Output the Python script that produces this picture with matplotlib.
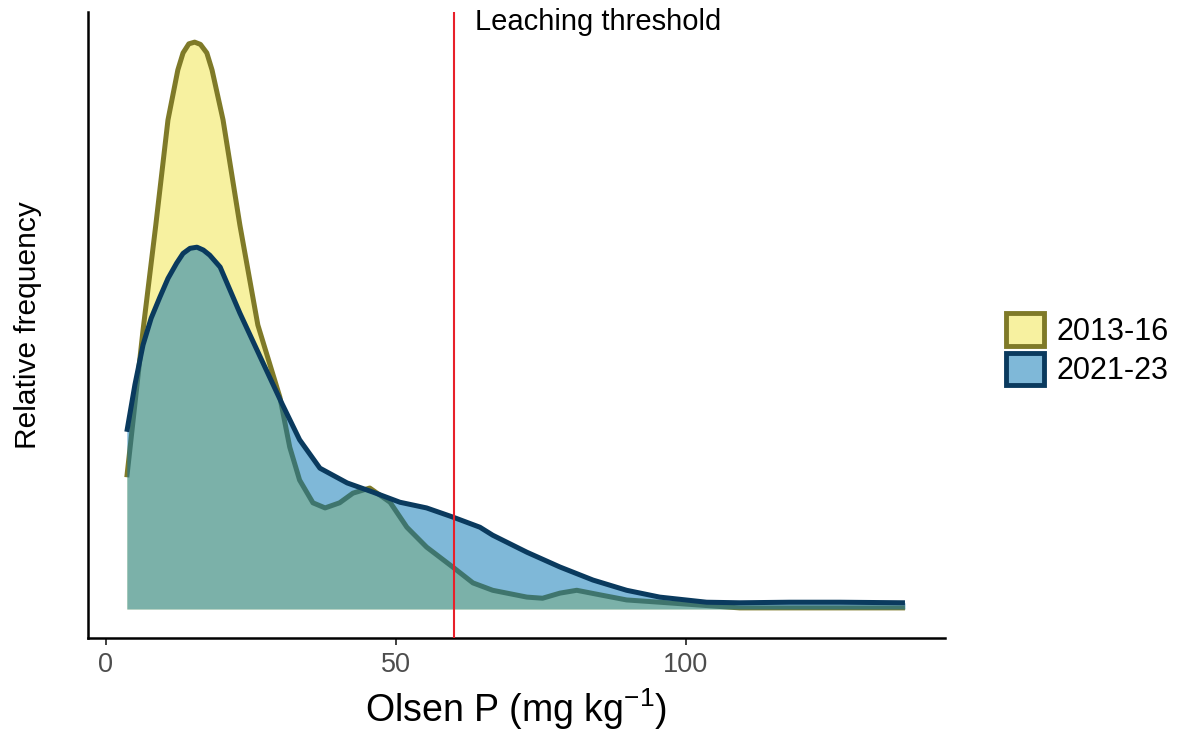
import matplotlib.pyplot as plt
from matplotlib.colors import to_rgba
from matplotlib.patches import Patch

plt.rcParams['font.family'] = ['Liberation Sans', 'DejaVu Sans']
plt.rcParams['mathtext.default'] = 'regular'

# density curves (relative units)
x_early = [3.6, 4.5, 6.4, 8.6, 10.7, 12.4, 13.3, 14.3, 15.3, 16.3, 17.4, 18.3,
           20.2, 23.1, 26.2, 30.0, 31.7, 33.4, 35.7, 37.8, 40.3, 42.6, 45.5,
           49.0, 51.9, 55.3, 59.8, 63.3, 66.7, 72.6, 75.3, 78.3, 81.2, 85.2,
           89.8, 95.5, 102.4, 109.3, 119.7, 137.8]
y_early = [0.232, 0.315, 0.491, 0.676, 0.861, 0.949, 0.979, 0.995, 0.998, 0.994,
           0.979, 0.949, 0.861, 0.676, 0.500, 0.373, 0.285, 0.227, 0.187, 0.178,
           0.187, 0.204, 0.213, 0.188, 0.144, 0.109, 0.074, 0.046, 0.033, 0.021,
           0.019, 0.028, 0.033, 0.025, 0.016, 0.012, 0.007, 0.002, 0.002, 0.002]

x_late = [3.6, 5.0, 6.4, 7.8, 9.3, 10.7, 12.2, 13.3, 14.5, 15.7, 16.8, 17.9,
          19.7, 23.1, 26.6, 30.3, 33.4, 36.9, 41.6, 46.0, 50.7, 55.3, 59.8,
          64.5, 66.7, 72.6, 78.3, 84.0, 89.8, 95.5, 103.6, 109.3, 117.9, 126.6,
          137.8]
y_late = [0.312, 0.395, 0.465, 0.512, 0.549, 0.582, 0.609, 0.626, 0.635, 0.637,
          0.632, 0.623, 0.602, 0.521, 0.444, 0.363, 0.298, 0.248, 0.222, 0.206,
          0.188, 0.178, 0.162, 0.144, 0.130, 0.100, 0.074, 0.051, 0.033, 0.021,
          0.012, 0.011, 0.012, 0.012, 0.011]

labels = ['2013-16', '2021-23']
fills = ['#F0E442', '#0072B2']
edges = ['#7F7A28', '#0A3A5E']
threshold = 60
xticks = [0, 50, 100]

fig = plt.figure(figsize=(11.79, 7.38), dpi=100)
ax = fig.add_axes([0.0746, 0.1355, 0.7269, 0.8482])

z = 1
for xs, ys, fc, ec in [(x_early, y_early, fills[0], edges[0]),
                       (x_late, y_late, fills[1], edges[1])]:
    ax.fill_between(xs, 0, ys, color=fc, alpha=0.5, lw=0, zorder=z)
    ax.plot(xs, ys, color=ec, lw=3.6, solid_capstyle='butt',
            solid_joinstyle='round', zorder=z + 1)
    z += 2

ax.axvline(threshold, color='#E8202A', lw=1.5, zorder=10)
ax.text(threshold + 3.7, 1.033, 'Leaching threshold', fontsize=21,
        ha='left', va='center', color='black')

ax.set_xlim(-3.1, 144.7)
ax.set_ylim(-0.051, 1.051)
ax.set_xticks(xticks)
ax.set_yticks([])
ax.tick_params(axis='x', length=5, width=1.3, color='#333333',
               labelsize=19.5, labelcolor='#4D4D4D', pad=5)
for s in ['top', 'right']:
    ax.spines[s].set_visible(False)
for s in ['left', 'bottom']:
    ax.spines[s].set_linewidth(1.8)
    ax.spines[s].set_color('black')

ax.set_xlabel(r'Olsen P (mg kg$^{-1}$)', fontsize=27, labelpad=6)
ax.set_ylabel('Relative frequency', fontsize=21.5, labelpad=33)

handles = [Patch(facecolor=to_rgba(fills[i], 0.5), edgecolor=edges[i], lw=3.5)
           for i in range(2)]
fig.legend(handles, labels, loc='center left', bbox_to_anchor=(0.853, 0.526),
           frameon=False, fontsize=22, handlelength=1.25, handleheight=1.25,
           handletextpad=0.4, labelspacing=0.2, borderpad=0, borderaxespad=0)

fig.savefig('out.png', dpi=100)
